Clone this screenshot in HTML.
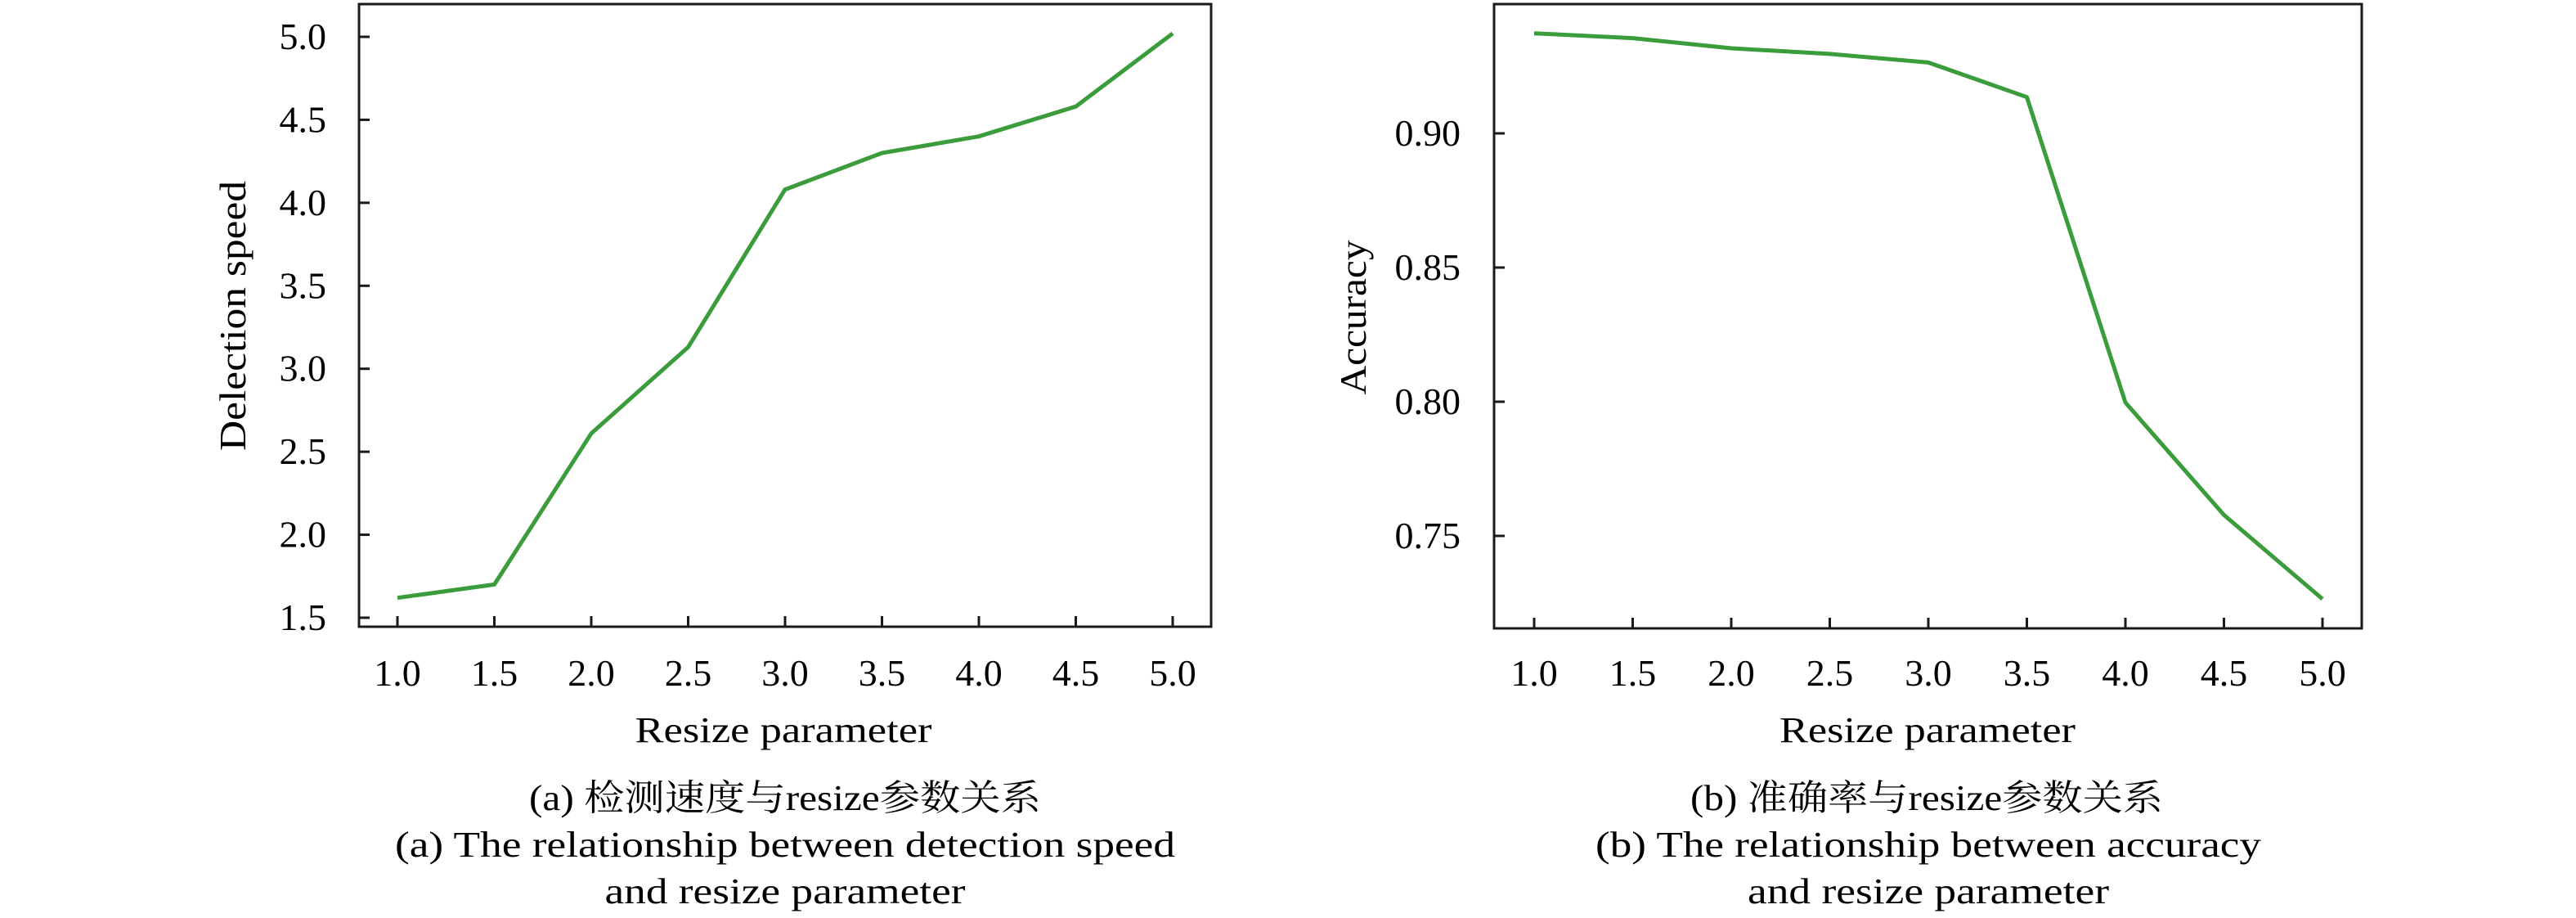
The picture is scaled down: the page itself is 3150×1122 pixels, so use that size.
<!DOCTYPE html>
<html><head><meta charset="utf-8"><style>
html,body{margin:0;padding:0;background:#fff;}
svg{display:block;}
text{font-family:"Liberation Serif","Noto Serif CJK SC",serif;fill:#000;}
</style></head><body>
<svg id="fig" width="3150" height="1122" viewBox="0 0 3150 1122" xmlns="http://www.w3.org/2000/svg">
<g id="chartA"></g>
<g id="chartB"></g>
<text x="958" y="907" font-size="44" text-anchor="middle" textLength="363" lengthAdjust="spacingAndGlyphs">Resize parameter</text>
<text x="960" y="990" font-size="44" text-anchor="middle" textLength="626" lengthAdjust="spacingAndGlyphs">(a) 检测速度与resize参数关系</text>
<text x="960" y="1047" font-size="44" text-anchor="middle" textLength="954" lengthAdjust="spacingAndGlyphs">(a) The relationship between detection speed</text>
<text x="960" y="1104" font-size="44" text-anchor="middle" textLength="441" lengthAdjust="spacingAndGlyphs">and resize parameter</text>
<text x="2357" y="907" font-size="44" text-anchor="middle" textLength="362" lengthAdjust="spacingAndGlyphs">Resize parameter</text>
<text x="2356" y="990" font-size="44" text-anchor="middle" textLength="578" lengthAdjust="spacingAndGlyphs">(b) 准确率与resize参数关系</text>
<text x="2358" y="1047" font-size="44" text-anchor="middle" textLength="814" lengthAdjust="spacingAndGlyphs">(b) The relationship between accuracy</text>
<text x="2358" y="1104" font-size="44" text-anchor="middle" textLength="442" lengthAdjust="spacingAndGlyphs">and resize parameter</text>
</svg>
<script>
const xCats = [1.0, 1.5, 2.0, 2.5, 3.0, 3.5, 4.0, 4.5, 5.0];
const xTickLabels = ["1.0","1.5","2.0","2.5","3.0","3.5","4.0","4.5","5.0"];
const speedValues = [1.62, 1.70, 2.61, 3.13, 4.08, 4.30, 4.40, 4.58, 5.02];
const speedTicks = [1.5, 2.0, 2.5, 3.0, 3.5, 4.0, 4.5, 5.0];
const speedTickLabels = ["1.5","2.0","2.5","3.0","3.5","4.0","4.5","5.0"];
const accValues = [0.9373, 0.9355, 0.9317, 0.9296, 0.9264, 0.9135, 0.7997, 0.7578, 0.7265];
const accTicks = [0.75, 0.80, 0.85, 0.90];
const accTickLabels = ["0.75","0.80","0.85","0.90"];

const NS = "http://www.w3.org/2000/svg";
function mk(tag, parent, attrs){
  const e = document.createElementNS(NS, tag);
  for (const k in attrs) e.setAttribute(k, attrs[k]);
  parent.appendChild(e);
  return e;
}
function drawChart(g, cfg){
  const xs = v => cfg.x0 + (v - cfg.xv0) / (cfg.xv1 - cfg.xv0) * (cfg.x1 - cfg.x0);
  const ys = v => cfg.y0 + (v - cfg.yv0) / (cfg.yv1 - cfg.yv0) * (cfg.y1 - cfg.y0);
  const frame = mk('rect', g, {x:cfg.L, y:cfg.T, width:cfg.R-cfg.L, height:cfg.B-cfg.T, fill:'none', stroke:'#1a1a1a', 'stroke-width':3});
  
  
  xCats.forEach((c, i) => {
    const x = xs(c);
    const t = mk('line', g, {x1:x, x2:x, y1:cfg.B, y2:cfg.B-13, stroke:'#1a1a1a', 'stroke-width':3});
    
    
    const lb = mk('text', g, {x:x, y:838, 'font-size':46, 'text-anchor':'middle'});
    lb.textContent = xTickLabels[i];
    
    
  });
  cfg.ticks.forEach((v, i) => {
    const y = ys(v);
    const t = mk('line', g, {x1:cfg.L, x2:cfg.L+13, y1:y, y2:y, stroke:'#1a1a1a', 'stroke-width':3});
    
    
    const lb = mk('text', g, {x:cfg.labelX, y:y+15, 'font-size':46, 'text-anchor':'end'});
    lb.textContent = cfg.tickLabels[i];
    
    
  });
  const pts = cfg.values.map((v, i) => xs(xCats[i]).toFixed(1) + ',' + ys(v).toFixed(1)).join(' ');
  const line = mk('polyline', g, {points:pts, fill:'none', stroke:'#3a9c3a', 'stroke-width':5, 'stroke-linejoin':'round'});
  
  
  const yt = mk('text', g, {x:0, y:0, 'font-size':46, 'text-anchor':'middle', transform:'translate(' + cfg.titleX + ',' + cfg.titleY + ') rotate(-90)', textLength:cfg.titleLen, lengthAdjust:'spacingAndGlyphs'});
  yt.textContent = cfg.title;
  
  
}
drawChart(document.getElementById('chartA'), {
  prefix:'speed', L:439, R:1481, T:5, B:766,
  x0:486, x1:1434, xv0:1.0, xv1:5.0,
  y0:755, y1:45, yv0:1.5, yv1:5.0,
  values:speedValues, ticks:speedTicks, tickLabels:speedTickLabels,
  labelX:399, title:'Delection speed', titleX:300, titleY:386, titleLen:330
});
drawChart(document.getElementById('chartB'), {
  prefix:'accuracy', L:1827, R:2888, T:5, B:768,
  x0:1876, x1:2840, xv0:1.0, xv1:5.0,
  y0:655, y1:163, yv0:0.75, yv1:0.90,
  values:accValues, ticks:accTicks, tickLabels:accTickLabels,
  labelX:1786, title:'Accuracy', titleX:1670, titleY:388, titleLen:189
});
</script>
</body></html>
